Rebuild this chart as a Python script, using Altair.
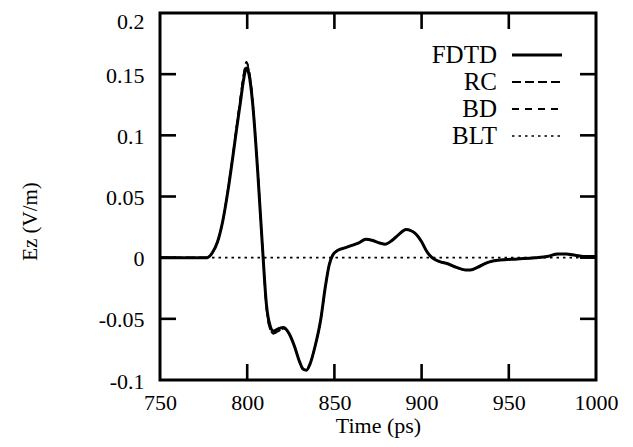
import altair as alt
import pandas as pd

# ---- data ----
time_ps = [750, 770, 777, 780, 783, 786, 789, 792, 794, 796, 798, 799.5, 801, 803, 806, 809,
           811, 813, 815, 818, 821, 824, 827, 830, 832, 834, 836, 839, 842, 845, 847, 849,
           852, 856, 860, 864, 868, 872, 876, 879, 883, 887, 891, 894, 897, 900, 903, 906,
           910, 915, 920, 925, 928, 932, 936, 940, 945, 955, 965, 972, 978, 983, 988, 993, 1000]
fdtd = [0, 0, 0.000, 0.004, 0.013, 0.030, 0.055, 0.085, 0.106, 0.126, 0.146, 0.155, 0.150, 0.128, 0.071, 0.003,
        -0.038, -0.055, -0.060, -0.058, -0.057, -0.062, -0.072, -0.085, -0.091, -0.092, -0.087, -0.072, -0.052, -0.022, -0.006, 0.002,
        0.006, 0.008, 0.010, 0.012, 0.015, 0.014, 0.012, 0.011, 0.014, 0.019, 0.023, 0.022, 0.019, 0.013, 0.005, 0.000,
        -0.003, -0.005, -0.008, -0.010, -0.010, -0.008, -0.005, -0.003, -0.002, -0.001, 0.000, 0.001, 0.003, 0.003, 0.002, 0.001, 0.001]
rc = [0, 0, 0.000, 0.004, 0.013, 0.030, 0.056, 0.086, 0.108, 0.129, 0.150, 0.159, 0.153, 0.130, 0.072, 0.003,
      -0.040, -0.058, -0.062, -0.060, -0.058, -0.062, -0.072, -0.085, -0.091, -0.092, -0.087, -0.072, -0.052, -0.022, -0.006, 0.002,
      0.006, 0.008, 0.010, 0.012, 0.015, 0.014, 0.012, 0.011, 0.014, 0.019, 0.023, 0.022, 0.019, 0.013, 0.005, 0.000,
      -0.003, -0.005, -0.008, -0.010, -0.010, -0.008, -0.005, -0.003, -0.002, -0.001, 0.000, 0.001, 0.003, 0.003, 0.002, 0.001, 0.001]
bd = [0, 0, 0.000, 0.004, 0.013, 0.030, 0.056, 0.086, 0.108, 0.129, 0.150, 0.160, 0.154, 0.131, 0.072, 0.003,
      -0.040, -0.058, -0.062, -0.060, -0.058, -0.062, -0.072, -0.085, -0.091, -0.092, -0.087, -0.072, -0.052, -0.022, -0.006, 0.002,
      0.006, 0.008, 0.010, 0.012, 0.015, 0.014, 0.012, 0.011, 0.014, 0.019, 0.023, 0.022, 0.019, 0.013, 0.005, 0.000,
      -0.003, -0.005, -0.008, -0.010, -0.010, -0.008, -0.005, -0.003, -0.002, -0.001, 0.000, 0.001, 0.003, 0.003, 0.002, 0.001, 0.001]
blt = [0.0] * len(time_ps)

series_names = ["FDTD", "RC", "BD", "BLT"]
x_ticks = [750, 800, 850, 900, 950, 1000]
y_ticks = [-0.1, -0.05, 0, 0.05, 0.1, 0.15, 0.2]

W, H = 436, 367
FONT = "Liberation Serif"
TICK = 16

rows = []
for name, vals in zip(series_names, [fdtd, rc, bd, blt]):
    for t, v in zip(time_ps, vals):
        rows.append({"t": t, "v": v, "s": name})
df = pd.DataFrame(rows)

xs = alt.Scale(domain=[750, 1000], nice=False)
ys = alt.Scale(domain=[-0.1, 0.2], nice=False)

axis_x = alt.Axis(values=x_ticks, ticks=False, domain=False, grid=False, labelFont=FONT,
                  labelFontSize=22, labelColor="black", labelPadding=12, format="d",
                  title="Time (ps)", titleFont=FONT, titleFontSize=22, titleFontWeight="normal",
                  titleColor="black", titlePadding=2, labelFlush=False)
axis_y = alt.Axis(values=y_ticks, ticks=False, domain=False, grid=False, labelFont=FONT,
                  labelFontSize=22, labelColor="black", labelPadding=16,
                  labelOffset={"condition": {"test": "datum.value > 0.19", "value": 8}, "value": 1},
                  labelExpr="datum.value < 0 ? '-' + format(-datum.value, '~g') : format(datum.value, '~g')",
                  title="Ez (V/m)", titleFont=FONT, titleFontSize=21, titleFontWeight="normal",
                  titleColor="black", titleX=-130, titleY=208, titleAngle=-90,
                  titleAlign="center", titleBaseline="middle", labelFlush=False)

X = alt.X("t:Q", scale=xs, axis=axis_x)
Y = alt.Y("v:Q", scale=ys, axis=axis_y)

styles = {
    "FDTD": dict(strokeWidth=3),
    "RC": dict(strokeWidth=1.8, strokeDash=[9, 4]),
    "BD": dict(strokeWidth=1.8, strokeDash=[7, 6]),
    "BLT": dict(strokeWidth=1.6, strokeDash=[2.5, 4]),
}

base = alt.Chart(df)
layers = []
for name in ["BLT", "BD", "RC", "FDTD"]:
    layers.append(
        base.transform_filter(alt.datum.s == name)
        .mark_line(color="black", interpolate="monotone", **styles[name])
        .encode(x=X, y=Y)
    )

# inward ticks on all four sides
xt = pd.DataFrame({"t": x_ticks[1:-1]})
yt = pd.DataFrame({"v": y_ticks[1:-1]})
tick_style = dict(color="black", strokeWidth=2.6)
layers.append(alt.Chart(xt).mark_rule(**tick_style).encode(
    x=X, y=alt.value(H), y2=alt.value(H - TICK)))
layers.append(alt.Chart(xt).mark_rule(**tick_style).encode(
    x=X, y=alt.value(0), y2=alt.value(TICK)))
layers.append(alt.Chart(yt).mark_rule(**tick_style).encode(
    y=Y, x=alt.value(0), x2=alt.value(TICK)))
layers.append(alt.Chart(yt).mark_rule(**tick_style).encode(
    y=Y, x=alt.value(W - TICK), x2=alt.value(W)))

# legend drawn inside the plot
leg_y = [42, 69, 96, 123]
for name, ly in zip(series_names, leg_y):
    ldf = pd.DataFrame({"s": [name]})
    layers.append(alt.Chart(ldf).mark_text(align="right", baseline="middle", font=FONT,
                                           fontSize=25, color="black").encode(
        text="s:N", x=alt.value(337), y=alt.value(ly)))
    layers.append(alt.Chart(ldf).mark_rule(color="black", **styles[name]).encode(
        x=alt.value(352), x2=alt.value(402), y=alt.value(ly)))

chart = alt.layer(*layers).properties(
    width=W, height=H,
    background="white",
    autosize=alt.AutoSizeParams(type="none"),
    padding={"left": 152, "top": 5, "right": 29, "bottom": 59},
).configure_view(stroke="black", strokeWidth=3)

chart.save("out.html", embed_options={"renderer": "svg", "actions": False})
